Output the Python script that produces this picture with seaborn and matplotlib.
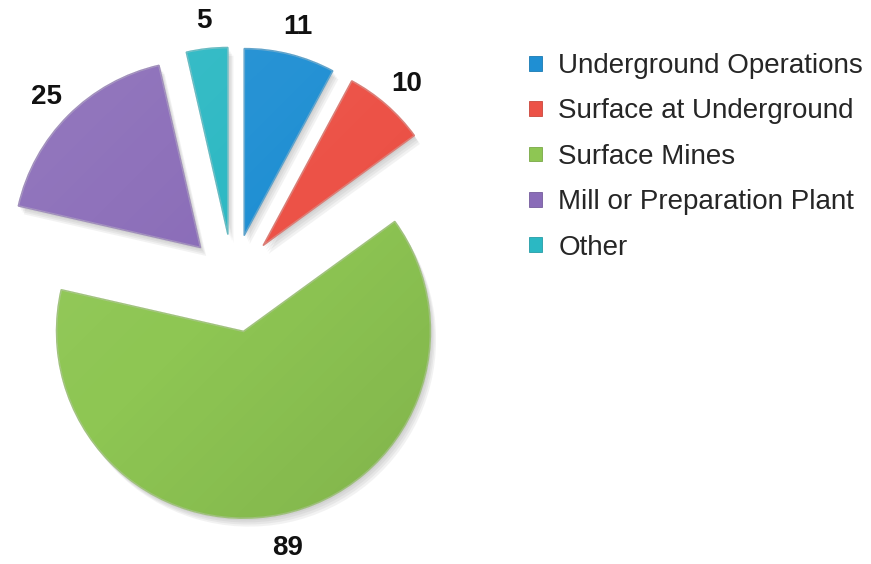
import numpy as np
import matplotlib
matplotlib.use("Agg")
import matplotlib.pyplot as plt
import matplotlib.patheffects as pe
from matplotlib.patches import Wedge
import seaborn as sns

categories = ["Underground Operations", "Surface at Underground", "Surface Mines",
              "Mill or Preparation Plant", "Other"]
counts = [11, 10, 89, 25, 5]
colors = ["#1f8fd3", "#ec5247", "#8ec653", "#8a6cb8", "#2bb8c3"]
explode = [0.245, 0.245, 0.28, 0.245, 0.245]

sns.set_theme(style="white")
plt.rcParams["font.family"] = ["Liberation Sans", "DejaVu Sans"]

W, H, DPI = 871, 564, 100
fig = plt.figure(figsize=(W / DPI, H / DPI), dpi=DPI)
ax = fig.add_axes([0, 0, 1, 1])

R = 187.0  # pie radius in pixels
cx, cy = 233.0, 280.0  # pie centre, pixels from top-left
xlim = (-cx / R, (W - cx) / R)
ylim = (-(H - cy) / R, cy / R)

wedges, texts = ax.pie(
    counts,
    labels=[str(c) for c in counts],
    colors=colors,
    explode=explode,
    startangle=90,
    counterclock=False,
    labeldistance=1.165,
    radius=1.0,
    wedgeprops=dict(linewidth=1.0),
    textprops=dict(fontsize=20, fontweight="bold", color="#111111"),
)

# soft drop shadow built from a few stacked offsets, plus a darker rim
shadow = [pe.SimplePatchShadow(offset=(k, -1.5 * k), shadow_rgbFace="#777777", alpha=0.09)
          for k in (4.0, 3.0, 2.0, 1.0)]
for w, c in zip(wedges, colors):
    rgb = np.array(matplotlib.colors.to_rgb(c))
    w.set_edgecolor(tuple(rgb * 0.85))
    w.set_path_effects(shadow + [pe.Normal()])

# gentle light/dark overlay inside each slice: highlight top-left, shade bottom-right
yy, xx = np.mgrid[ylim[1]:ylim[0]:300j, xlim[0]:xlim[1]:500j]
s = np.clip((yy - xx) / 2.5, -1, 1)
overlay = np.zeros(s.shape + (4,))
overlay[..., :3] = np.where(s[..., None] > 0, 1.0, 0.0)
overlay[..., 3] = np.abs(s) * 0.10
for w in wedges:
    im = ax.imshow(overlay, extent=(xlim[0], xlim[1], ylim[0], ylim[1]),
                   aspect="auto", zorder=w.get_zorder() + 0.1, interpolation="bilinear")
    im.set_clip_path(w)
    ax.add_patch(Wedge(w.center, w.r, w.theta1, w.theta2,
                       facecolor="none", edgecolor=(1, 1, 1, 0.3), linewidth=1.3,
                       zorder=w.get_zorder() + 0.2))

for t in texts:
    t.set_ha("center")
    t.set_va("center_baseline")

ax.set_xlim(*xlim)
ax.set_ylim(*ylim)
ax.set_aspect("auto")
ax.axis("off")

leg = fig.legend(
    wedges, categories,
    loc="upper left",
    bbox_to_anchor=(529 / W, 1 - 53 / H),
    frameon=False,
    fontsize=20,
    borderpad=0,
    borderaxespad=0,
    handlelength=0.45,
    handleheight=0.45,
    handletextpad=0.6,
    labelspacing=0.7,
)
for h in leg.legend_handles:
    h.set_path_effects([])
    h.set_linewidth(0.6)

fig.savefig("out.png", dpi=DPI, facecolor="white")
